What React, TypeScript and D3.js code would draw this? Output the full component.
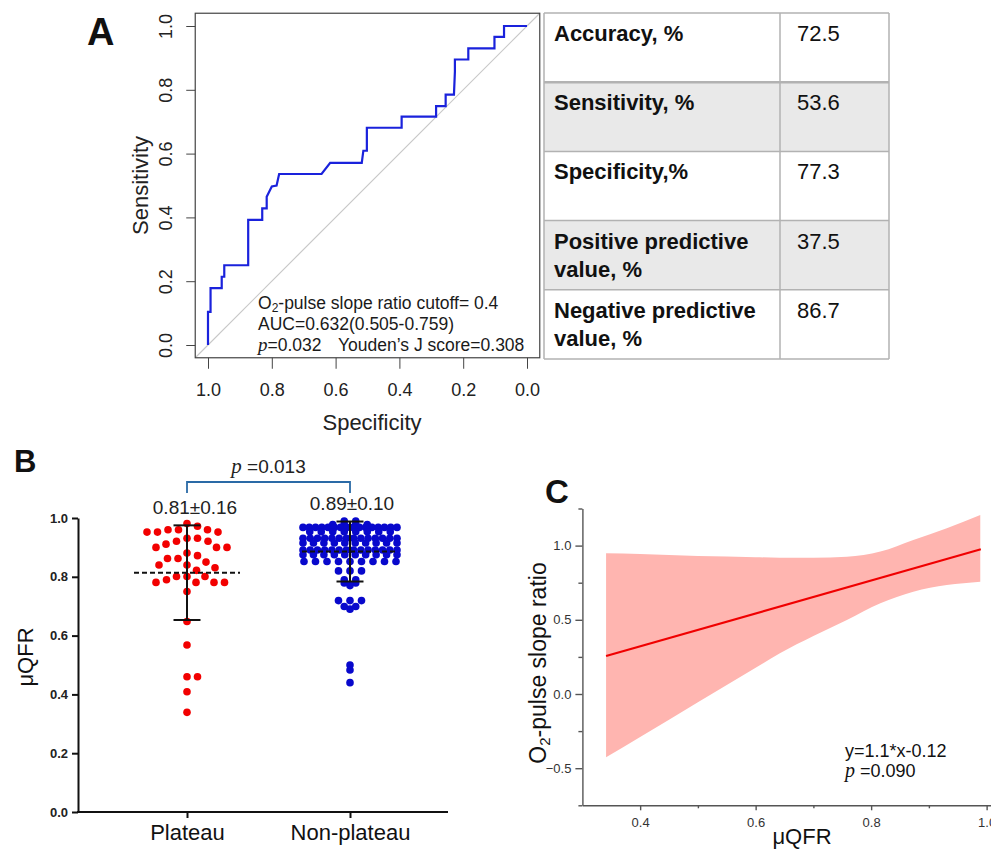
import React, { useEffect, useRef } from 'react';
import * as d3 from 'd3';

const FONT = '"Liberation Sans", Arial, Helvetica, sans-serif';
const SERIF = '"Liberation Serif", "Times New Roman", serif';

// ---- Panel A: ROC curve ----
const rocSpecificity = [1.0, 1.0, 0.992, 0.992, 0.957, 0.957, 0.949, 0.949, 0.874, 0.874, 0.83, 0.83, 0.816, 0.816, 0.8, 0.785, 0.777, 0.644, 0.617, 0.518, 0.513, 0.502, 0.502, 0.393, 0.393, 0.285, 0.285, 0.255, 0.255, 0.229, 0.226, 0.226, 0.184, 0.184, 0.102, 0.102, 0.072, 0.072, 0.0];
const rocSensitivity = [0, 0.104, 0.104, 0.178, 0.178, 0.214, 0.214, 0.25, 0.25, 0.392, 0.392, 0.428, 0.428, 0.465, 0.497, 0.5, 0.536, 0.536, 0.571, 0.571, 0.609, 0.609, 0.681, 0.681, 0.716, 0.716, 0.749, 0.749, 0.785, 0.785, 0.857, 0.895, 0.895, 0.93, 0.93, 0.966, 0.966, 1.0, 1.0];
const rocTicks = [1.0, 0.8, 0.6, 0.4, 0.2, 0.0];

// ---- Panel A: table ----
const tableLabels = [['Accuracy, %'], ['Sensitivity, %'], ['Specificity,%'], ['Positive predictive', 'value, %'], ['Negative predictive', 'value, %']];
const tableValues = ['72.5', '53.6', '77.3', '37.5', '86.7'];

// ---- Panel B: scatter of μQFR ----
const groups = ['Plateau', 'Non-plateau'];
const plateauValues = [
  0.981, 0.972, 0.96, 0.96, 0.96, 0.952, 0.952, 0.952,
  0.931, 0.931, 0.921, 0.921, 0.911,
  0.9, 0.9, 0.9,
  0.881, 0.872, 0.862, 0.862, 0.85,
  0.84, 0.84, 0.831, 0.822,
  0.801, 0.801, 0.801,
  0.79, 0.781, 0.781, 0.781, 0.781,
  0.75, 0.648, 0.568, 0.46, 0.46, 0.409, 0.339,
];
const nonPlateauValues = [
  0.99, 0.99,
  0.978, 0.978, 0.978, 0.978,
  0.968, 0.968, 0.968, 0.968, 0.968, 0.968, 0.968, 0.968, 0.968, 0.968, 0.968, 0.968, 0.968, 0.968, 0.968, 0.968,
  0.953, 0.953, 0.953, 0.953, 0.953, 0.953, 0.953, 0.953,
  0.931, 0.931, 0.931, 0.931, 0.931, 0.931, 0.931, 0.931, 0.931, 0.931, 0.931, 0.931, 0.931, 0.931,
  0.915, 0.915, 0.915, 0.915, 0.915, 0.915, 0.915, 0.915, 0.915, 0.915,
  0.891, 0.891, 0.891, 0.891, 0.891, 0.891, 0.891, 0.891, 0.891, 0.891, 0.891, 0.891, 0.891, 0.891,
  0.875, 0.875, 0.875, 0.875, 0.875, 0.875, 0.875, 0.875, 0.875, 0.875,
  0.852, 0.852, 0.852, 0.852, 0.852, 0.852, 0.852, 0.852, 0.852,
  0.82, 0.82, 0.82,
  0.79, 0.79,
  0.779, 0.779,
  0.77,
  0.719, 0.719, 0.719,
  0.699, 0.699,
  0.69,
  0.5, 0.483, 0.44,
];
const groupMeans = [0.814, 0.886];
const groupSDs = [0.161, 0.102];
const bTicks = [0, 0.2, 0.4, 0.6, 0.8, 1.0];

// ---- Panel C: regression with confidence band ----
const ciX = [0.341, 0.4, 0.5, 0.6, 0.642, 0.7, 0.758, 0.816, 0.873, 0.931, 0.989];
const ciUpper = [0.948, 0.943, 0.93, 0.922, 0.918, 0.918, 0.925, 0.96, 1.038, 1.117, 1.206];
const ciLower = [-0.427, -0.29, -0.056, 0.177, 0.274, 0.39, 0.499, 0.611, 0.689, 0.734, 0.757];
const fitX = [0.341, 0.99];
const fitY = [0.256, 0.975];
const cYMajor = [-0.5, 0, 0.5, 1.0];
const cYMinor = [-0.75, -0.25, 0.25, 0.75, 1.25];
const cXMajor = [0.4, 0.6, 0.8, 1.0];
const cXMinor = [0.5, 0.7, 0.9];

type Sel = d3.Selection<SVGSVGElement, unknown, null, undefined>;
type Pt = { v: number; y: number; x: number };

// greedy beeswarm: each point goes as close to the centre as it can
function swarm(values: number[], y: (v: number) => number, cx: number, minDist: number) {
  const pts: Pt[] = values.map(v => ({ v, y: y(v), x: cx })).sort((a, b) => a.y - b.y);
  const placed: Pt[] = [];
  for (const p of pts) {
    for (let k = 0; k < 400; k++) {
      const cands = k === 0 ? [0] : [k * 0.5, -k * 0.5];
      const hit = cands.find(off =>
        placed.every(q => (q.x - (cx + off)) ** 2 + (q.y - p.y) ** 2 >= minDist * minDist));
      if (hit !== undefined) { p.x = cx + hit; break; }
    }
    placed.push(p);
  }
  return placed;
}

// Prism-style rows: equal values share a row, spread evenly around the centre
function rowScatter(values: number[], y: (v: number) => number, cx: number, gap: number, maxWidth: number) {
  const out: Pt[] = [];
  d3.group(values, v => v).forEach(vals => {
    const n = vals.length;
    const step = n > 1 ? Math.min(gap, maxWidth / (n - 1)) : 0;
    vals.forEach((v, i) => out.push({ v, y: y(v), x: cx + (i - (n - 1) / 2) * step }));
  });
  return out;
}

function drawRoc(svg: Sel) {
  const x = d3.scaleLinear().domain([1, 0]).range([208, 527]);
  const y = d3.scaleLinear().domain([0, 1]).range([345, 26]);
  const g = svg.append('g');

  g.append('text').text('A').attr('x', 87).attr('y', 45)
    .attr('font-size', 38).attr('font-weight', 'bold').attr('fill', '#111');

  // chance diagonal, full plot region
  g.append('line')
    .attr('x1', x(1.04)).attr('y1', y(-0.04)).attr('x2', x(-0.04)).attr('y2', y(1.04))
    .attr('stroke', '#c8c8c8').attr('stroke-width', 1.2);

  g.append('rect')
    .attr('x', x(1.04)).attr('y', y(1.04))
    .attr('width', x(-0.04) - x(1.04)).attr('height', y(-0.04) - y(1.04))
    .attr('fill', 'none').attr('stroke', '#444').attr('stroke-width', 1.2);

  const line = d3.line<number>().x((_, i) => x(rocSpecificity[i])).y(d => y(d));
  g.append('path').datum(rocSensitivity).attr('d', line)
    .attr('fill', 'none').attr('stroke', '#1a22dc').attr('stroke-width', 2.2);

  // left axis, labels rotated like R
  const ya = g.append('g').attr('transform', `translate(${x(1.04)},0)`)
    .call(d3.axisLeft(y).tickValues(rocTicks).tickSize(9).tickFormat(d3.format('.1f')));
  ya.select('.domain').remove();
  ya.selectAll('line').attr('stroke', '#444');
  ya.selectAll('text')
    .attr('transform', 'rotate(-90)').attr('x', 0).attr('y', -29).attr('dy', null)
    .attr('text-anchor', 'middle').attr('dominant-baseline', 'central')
    .attr('font-size', 18).attr('font-family', FONT).attr('fill', '#222');

  const xa = g.append('g').attr('transform', `translate(0,${y(-0.04)})`)
    .call(d3.axisBottom(x).tickValues(rocTicks).tickSize(11).tickPadding(14).tickFormat(d3.format('.1f')));
  xa.select('.domain').remove();
  xa.selectAll('line').attr('stroke', '#444');
  xa.selectAll('text').attr('font-size', 18).attr('font-family', FONT).attr('fill', '#222');

  g.append('text').text('Specificity').attr('x', 372).attr('y', 430)
    .attr('text-anchor', 'middle').attr('font-size', 22).attr('fill', '#222');
  g.append('text').text('Sensitivity')
    .attr('transform', `translate(140,${y(0.5)}) rotate(-90)`)
    .attr('text-anchor', 'middle').attr('dominant-baseline', 'central')
    .attr('font-size', 22).attr('fill', '#222');

  const note = g.append('g').attr('font-size', 17.5).attr('fill', '#1a1a1a');
  const t1 = note.append('text').attr('x', 258).attr('y', 309);
  t1.append('tspan').text('O');
  t1.append('tspan').text('2').attr('font-size', 12).attr('dy', 3);
  t1.append('tspan').text('-pulse slope ratio cutoff= 0.4').attr('dy', -3);
  note.append('text').attr('x', 258).attr('y', 330).text('AUC=0.632(0.505-0.759)');
  const t3 = note.append('text').attr('x', 258).attr('y', 351);
  t3.append('tspan').text('p').attr('font-family', SERIF).attr('font-style', 'italic').attr('font-size', 19);
  t3.append('tspan').text('=0.032');
  t3.append('tspan').text('Youden’s J score=0.308').attr('x', 338);
}

function drawTable(svg: Sel) {
  const rows = d3.scaleBand<number>().domain(d3.range(tableValues.length)).range([13, 359]);
  const cols = [544, 780, 889];
  const g = svg.append('g');
  g.selectAll('rect.row').data(tableValues).join('rect')
    .attr('class', 'row')
    .attr('x', cols[0]).attr('y', (_, i) => rows(i)!)
    .attr('width', cols[2] - cols[0]).attr('height', rows.bandwidth())
    .attr('fill', (_, i) => (i % 2 === 1 ? '#e9e9e9' : '#fff'));
  const edges = d3.range(tableValues.length + 1).map(i => (i < tableValues.length ? rows(i)! : rows(i - 1)! + rows.bandwidth()));
  g.selectAll('line.h').data(edges).join('line').attr('class', 'h')
    .attr('x1', cols[0]).attr('x2', cols[2]).attr('y1', d => d).attr('y2', d => d)
    .attr('stroke', '#b2b2b2').attr('stroke-width', (_, i) => (i === 1 ? 2.5 : 1.5));
  g.selectAll('line.v').data(cols).join('line').attr('class', 'v')
    .attr('x1', d => d).attr('x2', d => d).attr('y1', edges[0]).attr('y2', edges[edges.length - 1])
    .attr('stroke', '#b2b2b2').attr('stroke-width', 1.5);

  tableLabels.forEach((lines, i) => {
    const t = g.append('text').attr('font-size', 22).attr('font-weight', 'bold').attr('fill', '#111');
    lines.forEach((s, j) => t.append('tspan').attr('x', 554).attr('y', rows(i)! + 28 + j * 28).text(s));
    g.append('text').text(tableValues[i]).attr('x', 797).attr('y', rows(i)! + 28)
      .attr('font-size', 22).attr('fill', '#111');
  });
}

function drawScatter(svg: Sel) {
  const y = d3.scaleLinear().domain([0, 1]).range([812, 518]);
  const x = d3.scalePoint<string>().domain(groups).range([187, 350]);
  const g = svg.append('g');

  g.append('text').text('B').attr('x', 14).attr('y', 472)
    .attr('font-size', 31).attr('font-weight', 'bold').attr('fill', '#111');

  const ya = g.append('g').attr('transform', 'translate(78,0)')
    .call(d3.axisLeft(y).tickValues(bTicks).tickSize(6).tickSizeOuter(0).tickPadding(4).tickFormat(d3.format('.1f')));
  ya.select('.domain').attr('stroke', '#111').attr('stroke-width', 2);
  ya.selectAll('line').attr('stroke', '#111').attr('stroke-width', 2);
  ya.selectAll('text').attr('font-size', 13).attr('font-weight', 'bold').attr('font-family', FONT).attr('fill', '#222');

  g.append('line').attr('x1', 77).attr('x2', 448).attr('y1', y(0)).attr('y2', y(0))
    .attr('stroke', '#111').attr('stroke-width', 2);
  const xa = g.append('g').attr('transform', `translate(0,${y(0)})`)
    .call(d3.axisBottom(x).tickSize(6).tickSizeOuter(0).tickPadding(6));
  xa.select('.domain').remove();
  xa.selectAll('line').attr('stroke', '#111').attr('stroke-width', 2);
  xa.selectAll('text').attr('font-size', 22).attr('font-family', FONT).attr('fill', '#111');

  g.append('text').text('μQFR')
    .attr('transform', `translate(25,${y(0.5) - 8}) rotate(-90)`)
    .attr('text-anchor', 'middle').attr('dominant-baseline', 'central')
    .attr('font-size', 22).attr('fill', '#111');

  const redPts = swarm(plateauValues, y, x(groups[0])!, 10.5);
  const bluePts = rowScatter(nonPlateauValues, y, x(groups[1])!, 11.5, 94);
  [{ pts: redPts, color: '#f20000' }, { pts: bluePts, color: '#0808cc' }].forEach(s => {
    g.append('g').selectAll('circle').data(s.pts).join('circle')
      .attr('cx', d => d.x).attr('cy', d => d.y).attr('r', 3.8).attr('fill', s.color);
  });

  const halfMean = [53, 48];
  groups.forEach((grp, gi) => {
    const cx = x(grp)!;
    const m = groupMeans[gi];
    const sd = groupSDs[gi];
    g.append('line').attr('x1', cx - halfMean[gi]).attr('x2', cx + halfMean[gi])
      .attr('y1', y(m)).attr('y2', y(m))
      .attr('stroke', '#111').attr('stroke-width', 2).attr('stroke-dasharray', '5,3');
    g.append('line').attr('x1', cx).attr('x2', cx).attr('y1', y(m + sd)).attr('y2', y(m - sd))
      .attr('stroke', '#111').attr('stroke-width', 2);
    [m + sd, m - sd].forEach(v => {
      g.append('line').attr('x1', cx - 13.5).attr('x2', cx + 13.5).attr('y1', y(v)).attr('y2', y(v))
        .attr('stroke', '#111').attr('stroke-width', 2);
    });
    g.append('text').text(`${d3.format('.2f')(m)}±${d3.format('.2f')(sd)}`)
      .attr('x', cx + (gi === 0 ? 8 : 2)).attr('y', gi === 0 ? 514 : 510)
      .attr('text-anchor', 'middle').attr('font-size', 19).attr('fill', '#222');
  });

  const x0 = x(groups[0])!;
  const x1 = x(groups[1])!;
  g.append('path').attr('d', `M${x0},493V482H${x1}V493`)
    .attr('fill', 'none').attr('stroke', '#2a6aa6').attr('stroke-width', 1.8);
  const pt = g.append('text').attr('x', (x0 + x1) / 2).attr('y', 473)
    .attr('text-anchor', 'middle').attr('font-size', 19).attr('fill', '#222');
  pt.append('tspan').text('p').attr('font-family', SERIF).attr('font-style', 'italic').attr('font-size', 21);
  pt.append('tspan').text(' =0.013');
}

function drawRegression(svg: Sel) {
  const x = d3.scaleLinear().domain([0.3, 1.05]).range([582.4, 1015.5]);
  const y = d3.scaleLinear().domain([-0.75, 1.25]).range([805.3, 508.5]);
  const g = svg.append('g');

  g.append('text').text('C').attr('x', 545).attr('y', 503)
    .attr('font-size', 33).attr('font-weight', 'bold').attr('fill', '#111');

  const area = d3.area<number>()
    .x(d => x(d)).y0((_, i) => y(ciLower[i])).y1((_, i) => y(ciUpper[i]))
    .curve(d3.curveMonotoneX);
  g.append('path').datum(ciX).attr('d', area).attr('fill', '#ffb5b0');

  const line = d3.line<number>().x(d => x(d)).y((_, i) => y(fitY[i]));
  g.append('path').datum(fitX).attr('d', line)
    .attr('fill', 'none').attr('stroke', '#f00000').attr('stroke-width', 2.2);

  const axisColor = '#555';
  const ya = g.append('g').attr('transform', `translate(${x(0.3)},0)`)
    .call(d3.axisLeft(y).tickValues(cYMajor).tickSize(7).tickSizeOuter(0).tickPadding(4).tickFormat(d3.format('.1f')));
  ya.select('.domain').attr('stroke', axisColor).attr('stroke-width', 1.4);
  ya.selectAll('line').attr('stroke', axisColor).attr('stroke-width', 1.4);
  ya.selectAll('text').attr('font-size', 13).attr('font-family', FONT).attr('fill', '#333');
  g.append('g').attr('transform', `translate(${x(0.3)},0)`)
    .call(d3.axisLeft(y).tickValues(cYMinor).tickSize(4).tickFormat(() => ''))
    .call(s => s.select('.domain').remove())
    .selectAll('line').attr('stroke', axisColor).attr('stroke-width', 1.4);

  const xa = g.append('g').attr('transform', `translate(0,${y(-0.75)})`)
    .call(d3.axisBottom(x).tickValues(cXMajor).tickSize(5).tickSizeOuter(0).tickPadding(7).tickFormat(d3.format('.1f')));
  xa.select('.domain').attr('stroke', axisColor).attr('stroke-width', 1.4);
  xa.selectAll('line').attr('stroke', axisColor).attr('stroke-width', 1.4);
  xa.selectAll('text').attr('font-size', 13).attr('font-family', FONT).attr('fill', '#333');
  g.append('g').attr('transform', `translate(0,${y(-0.75)})`)
    .call(d3.axisBottom(x).tickValues(cXMinor).tickSize(3).tickFormat(() => ''))
    .call(s => s.select('.domain').remove())
    .selectAll('line').attr('stroke', axisColor).attr('stroke-width', 1.4);

  g.append('text').text('μQFR').attr('x', 802).attr('y', 844)
    .attr('text-anchor', 'middle').attr('font-size', 22).attr('fill', '#111');

  const yl = g.append('text')
    .attr('transform', `translate(538,663) rotate(-90)`)
    .attr('text-anchor', 'middle').attr('dominant-baseline', 'central')
    .attr('font-size', 23).attr('fill', '#111');
  yl.append('tspan').text('O');
  yl.append('tspan').text('2').attr('font-size', 15).attr('dy', 6);
  yl.append('tspan').text('-pulse slope ratio').attr('dy', -6);

  g.append('text').text('y=1.1*x-0.12').attr('x', 845).attr('y', 757)
    .attr('font-size', 18).attr('fill', '#111');
  const pt = g.append('text').attr('x', 845).attr('y', 777).attr('font-size', 18).attr('fill', '#111');
  pt.append('tspan').text('p').attr('font-family', SERIF).attr('font-style', 'italic').attr('font-size', 20);
  pt.append('tspan').text(' =0.090');
}

export default function App() {
  const ref = useRef<SVGSVGElement>(null);

  useEffect(() => {
    const svg = d3.select(ref.current!) as unknown as Sel;
    svg.selectAll('*').remove();
    svg.attr('font-family', FONT);
    drawRoc(svg);
    drawTable(svg);
    drawScatter(svg);
    drawRegression(svg);
  }, []);

  return (
    <div style={{ position: 'absolute', left: 0, top: 0 }}>
      <svg ref={ref} width={991} height={850} style={{ display: 'block', background: '#fff' }} />
    </div>
  );
}
